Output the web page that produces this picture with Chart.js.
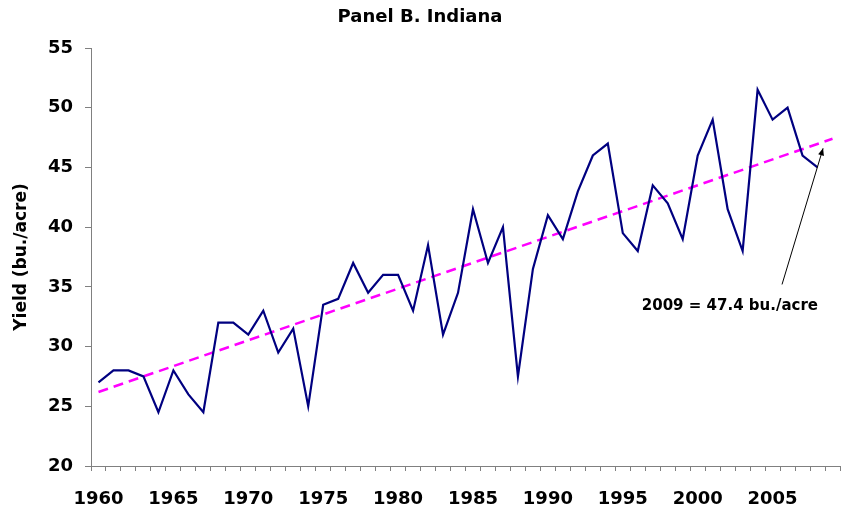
<!DOCTYPE html>
<html>
<head>
<meta charset="utf-8">
<script src="https://cdn.jsdelivr.net/npm/chart.js@4/dist/chart.umd.min.js"></script>
<style>
  html, body { margin: 0; padding: 0; background: #fff; }
  canvas { display: block; }
</style>
</head>
<body>
<canvas id="yieldChart" width="844" height="516"></canvas>
<script>
// Indiana yields, 1960-2009 (2009 has no observed value, only the trend end)
const years = [
    1960, 1961, 1962, 1963, 1964, 1965, 1966, 1967, 1968, 1969,
    1970, 1971, 1972, 1973, 1974, 1975, 1976, 1977, 1978, 1979,
    1980, 1981, 1982, 1983, 1984, 1985, 1986, 1987, 1988, 1989,
    1990, 1991, 1992, 1993, 1994, 1995, 1996, 1997, 1998, 1999,
    2000, 2001, 2002, 2003, 2004, 2005, 2006, 2007, 2008, 2009
]
const yields = [
    27, 28, 28, 27.5, 24.5, 28, 26, 24.5, 32, 32,
    31, 33, 29.5, 31.5, 25, 33.5, 34, 37, 34.5, 36,
    36, 33, 38.5, 31, 34.5, 41.5, 37, 40, 27.5, 36.5,
    41, 39, 43, 46, 47, 39.5, 38, 43.5, 42, 39,
    46, 49, 41.5, 38, 51.5, 49, 50, 46, 45, null
]
// trend line: only its two ends are known
const trendStart = 26.2
const trendEnd = 47.4
const trend = years.map((y, i) => i === 0 ? trendStart : (i === years.length - 1 ? trendEnd : null))

const yTicks = [20, 25, 30, 35, 40, 45, 50, 55]
const noteText = '2009 = 47.4 bu./acre'

const font = 'DejaVu Sans'

// arrow + text note, anchored in data units
const notePlugin = {
    id: 'note',
    afterDatasetsDraw(chart) {
        const { ctx, scales: { x, y } } = chart
        const tipX = x.getPixelForValue(48.37), tipY = y.getPixelForValue(46.6)
        const tailX = x.getPixelForValue(45.63), tailY = y.getPixelForValue(35.2)
        ctx.save()
        ctx.strokeStyle = '#000'
        ctx.fillStyle = '#000'
        ctx.lineWidth = 1
        ctx.beginPath()
        ctx.moveTo(tailX, tailY)
        ctx.lineTo(tipX, tipY)
        ctx.stroke()
        const a = Math.atan2(tipY - tailY, tipX - tailX)
        ctx.beginPath()
        ctx.moveTo(tipX, tipY)
        ctx.lineTo(tipX - 7 * Math.cos(a) + 3 * Math.sin(a), tipY - 7 * Math.sin(a) - 3 * Math.cos(a))
        ctx.lineTo(tipX - 7 * Math.cos(a) - 3 * Math.sin(a), tipY - 7 * Math.sin(a) + 3 * Math.cos(a))
        ctx.closePath()
        ctx.fill()

        ctx.font = 'bold 15px "' + font + '"'
        ctx.textAlign = 'right'
        ctx.textBaseline = 'middle'
        ctx.fillText(noteText, x.getPixelForValue(48.03), y.getPixelForValue(33.4))
        ctx.restore()
    }
}

const data = {
    labels: years,
    datasets: [{
        label: 'Yield',
        data: yields,
        borderColor: '#000080',
        borderWidth: 2.2,
        pointRadius: 0,
        tension: 0,
        order: 1
    }, {
        label: 'Trend',
        data: trend,
        borderColor: '#FF00FF',
        borderWidth: 2.5,
        borderDash: [10, 6],
        pointRadius: 0,
        spanGaps: true,
        order: 2
    }]
}

const options = {
    responsive: false,
    devicePixelRatio: 1,
    animation: false,
    layout: { padding: { left: 0, right: 4, top: 0, bottom: 0 } },
    plugins: {
        legend: { display: false },
        tooltip: { enabled: false },
        title: {
            display: true,
            text: 'Panel B. Indiana',
            color: '#000',
            font: { family: font, size: 18, weight: 'bold', lineHeight: 1.2 },
            padding: { top: 7, bottom: 19.4 }
        }
    },
    scales: {
        x: {
            type: 'category',
            offset: true,
            afterFit: s => {
                s.height = 50
                s.paddingLeft = 0
                s.paddingRight = 0
            },
            border: { color: '#808080', width: 1 },
            grid: { offset: true, drawOnChartArea: false, tickLength: 5, color: '#808080' },
            ticks: {
                autoSkip: false,
                maxRotation: 0,
                padding: 18,
                color: '#000',
                font: { family: font, size: 18, weight: 'bold' },
                callback: (v, i) => years[i] % 5 === 0 && years[i] < 2009 ? String(years[i]) : ''
            }
        },
        y: {
            min: 20,
            max: 55,
            afterFit: s => {
                s.width = 91
                s.paddingTop = 0
                s.paddingBottom = 0
            },
            afterBuildTicks: s => { s.ticks = yTicks.map(v => ({ value: v })) },
            border: { color: '#808080', width: 1 },
            grid: { drawOnChartArea: false, tickLength: 6, color: '#808080' },
            ticks: {
                padding: 12,
                color: '#000',
                font: { family: font, size: 18, weight: 'bold' }
            },
            title: {
                display: true,
                text: 'Yield (bu./acre)',
                color: '#000',
                font: { family: font, size: 17, weight: 'bold' },
                padding: { top: 11, bottom: 0 }
            }
        }
    }
}

new Chart('yieldChart', { type: 'line', data, options, plugins: [notePlugin] })
</script>
</body>
</html>
